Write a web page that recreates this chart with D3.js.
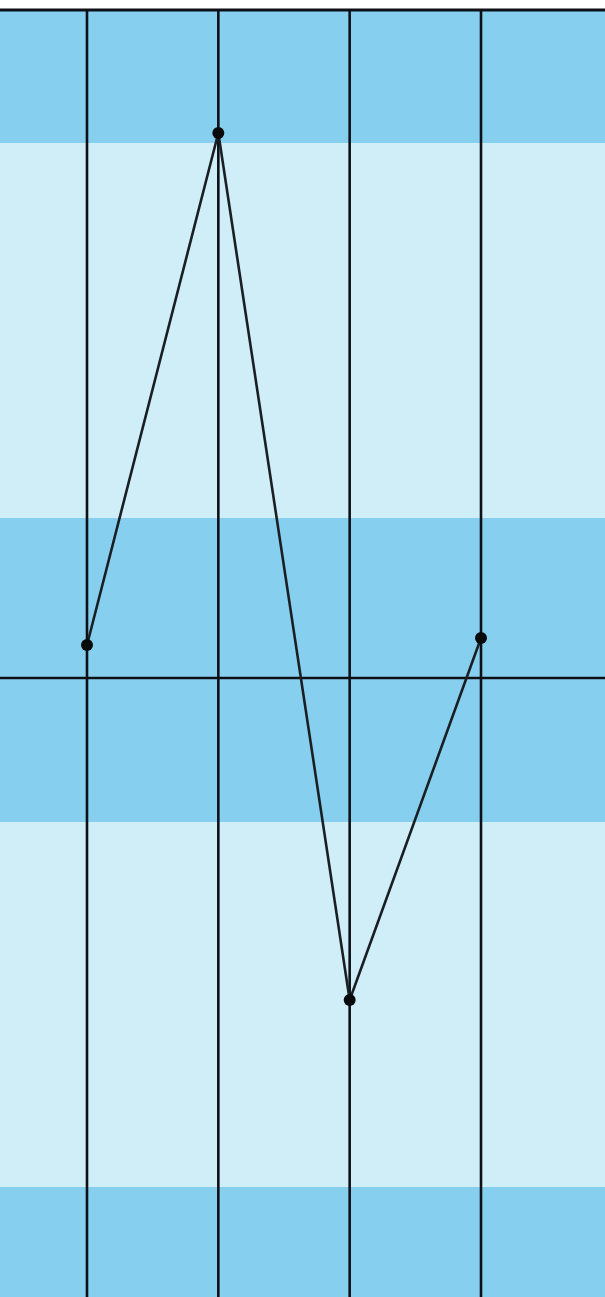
<!DOCTYPE html>
<html>
<head>
<meta charset="utf-8">
<script src="https://cdn.jsdelivr.net/npm/d3@7"></script>
<style>
  html, body { margin: 0; padding: 0; background: #fff; }
  #chart { width: 605px; height: 1297px; }
</style>
</head>
<body>
<div id="chart"></div>
<script>
// categories along x (vertical grid lines)
const categories = [1, 2, 3, 4];
// series values (y, zero at the horizontal axis line)
const values = [0.33, 5.45, -3.22, 0.40];
// alternating background bands [from, to]
const bandRanges = [
  [5.35, 6.68],
  [1.60, 5.35],
  [-1.44, 1.60],
  [-5.09, -1.44],
  [-6.19, -5.09]
];
const bandShade = ["dark", "light", "dark", "light", "dark"];
const yTop = 6.68;

const width = 605;
const height = 1297;

const svg = d3.select("#chart").append("svg")
  .attr("width", width)
  .attr("height", height)
  .style("display", "block");

const x = d3.scaleLinear().domain([1, 4]).range([87, 481]);
const y = d3.scaleLinear().domain([0, yTop]).range([678, 10]);

const colors = { dark: "#87cfee", light: "#d0eef8" };

// background bands
svg.append("g")
  .selectAll("rect")
  .data(bandRanges)
  .enter()
  .append("rect")
  .attr("x", 0)
  .attr("width", width)
  .attr("y", d => y(d[1]))
  .attr("height", d => y(d[0]) - y(d[1]))
  .attr("fill", (d, i) => colors[bandShade[i]]);

// vertical grid lines
svg.append("g")
  .selectAll("line")
  .data(categories)
  .enter()
  .append("line")
  .attr("x1", d => x(d)).attr("x2", d => x(d))
  .attr("y1", y(yTop)).attr("y2", height)
  .attr("stroke", "#0d1117")
  .attr("stroke-width", 2.6);

// top border and zero axis
svg.append("line")
  .attr("x1", 0).attr("x2", width)
  .attr("y1", y(yTop)).attr("y2", y(yTop))
  .attr("stroke", "#0d1117")
  .attr("stroke-width", 3);

svg.append("line")
  .attr("x1", 0).attr("x2", width)
  .attr("y1", y(0)).attr("y2", y(0))
  .attr("stroke", "#0d1117")
  .attr("stroke-width", 2.6);

// series line
const line = d3.line()
  .x((d, i) => x(categories[i]))
  .y(d => y(d));

svg.append("path")
  .datum(values)
  .attr("d", line)
  .attr("fill", "none")
  .attr("stroke", "#1a1f24")
  .attr("stroke-width", 2.6);

// points
svg.append("g")
  .selectAll("circle")
  .data(values)
  .enter()
  .append("circle")
  .attr("cx", (d, i) => x(categories[i]))
  .attr("cy", d => y(d))
  .attr("r", 6)
  .attr("fill", "#080a0c");
</script>
</body>
</html>
